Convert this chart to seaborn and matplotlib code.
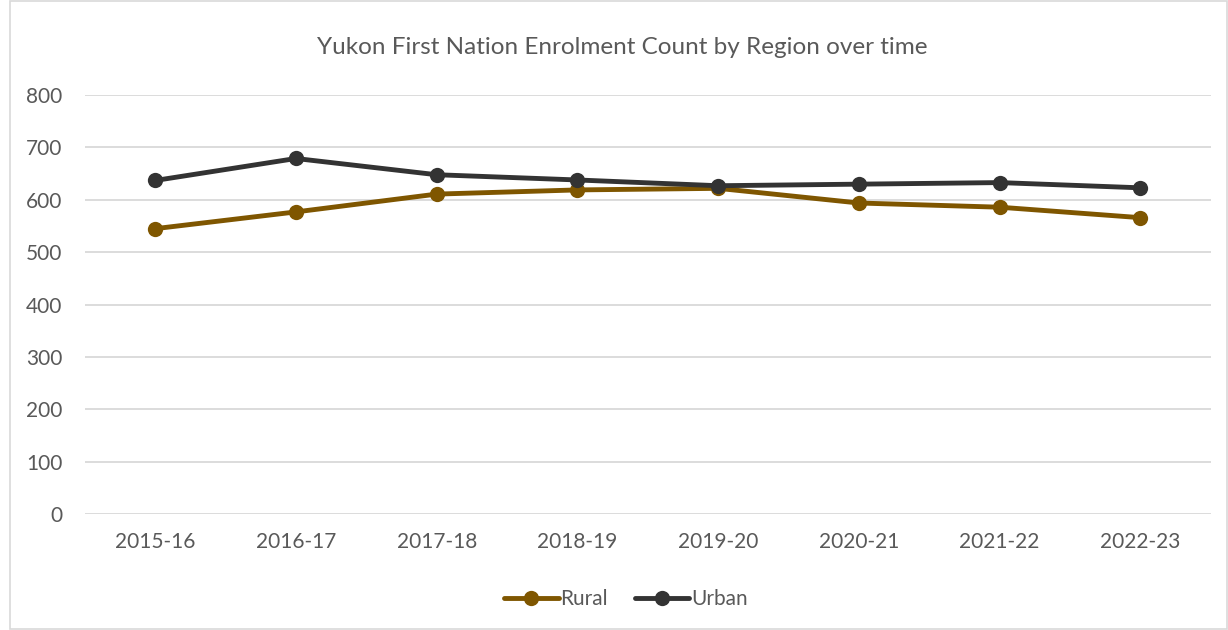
import numpy as np
import pandas as pd
import matplotlib.pyplot as plt
import seaborn as sns
from matplotlib.patches import Rectangle

years = ['2015-16', '2016-17', '2017-18', '2018-19',
         '2019-20', '2020-21', '2021-22', '2022-23']
rural = [545, 577, 611, 619, 622, 594, 586, 566]
urban = [637, 679, 648, 638, 627, 630, 633, 623]

df = pd.DataFrame({
    'year': years * 2,
    'count': rural + urban,
    'region': ['Rural'] * len(years) + ['Urban'] * len(years),
})

sns.set_style("white")
plt.rcParams['font.family'] = ['Lato', 'DejaVu Sans']

fig = plt.figure(figsize=(12.28, 6.3), dpi=100)
ax = fig.add_axes([0.069, 0.184, 0.917, 0.665])

sns.lineplot(data=df, x='year', y='count', hue='region',
             palette={'Rural': '#7f5600', 'Urban': '#333333'},
             marker='o', markersize=11, markeredgewidth=0,
             linewidth=3.5, sort=False, ax=ax)

ax.set_xlim(-0.5, len(years) - 0.5)
ax.set_ylim(0, 800)
ax.set_yticks(np.arange(0, 801, 100))
ax.grid(axis='y', color='#d9d9d9', lw=1.3)
ax.set_axisbelow(True)
sns.despine(ax=ax, left=True, bottom=True)
ax.tick_params(axis='both', length=0, labelsize=15, labelcolor='#595959')
ax.tick_params(axis='x', pad=13)
ax.tick_params(axis='y', pad=16)
ax.set_xlabel('')
ax.set_ylabel('')

fig.text(0.507, 0.925, 'Yukon First Nation Enrolment Count by Region over time',
         ha='center', va='center', fontsize=17.5, color='#595959')

ax.legend(loc='center', bbox_to_anchor=(0.51, 0.049), bbox_transform=fig.transFigure,
          ncol=2, frameon=False, fontsize=15, handlelength=2.6,
          handletextpad=0.1, columnspacing=1.3, labelcolor='#595959')

# 外框
fig.patches.append(Rectangle((10 / 1228, 0.002), 1 - 11 / 1228, 0.996,
                             transform=fig.transFigure, fill=False,
                             edgecolor='#d9d9d9', lw=1.2))

fig.savefig('out.png', dpi=100)
